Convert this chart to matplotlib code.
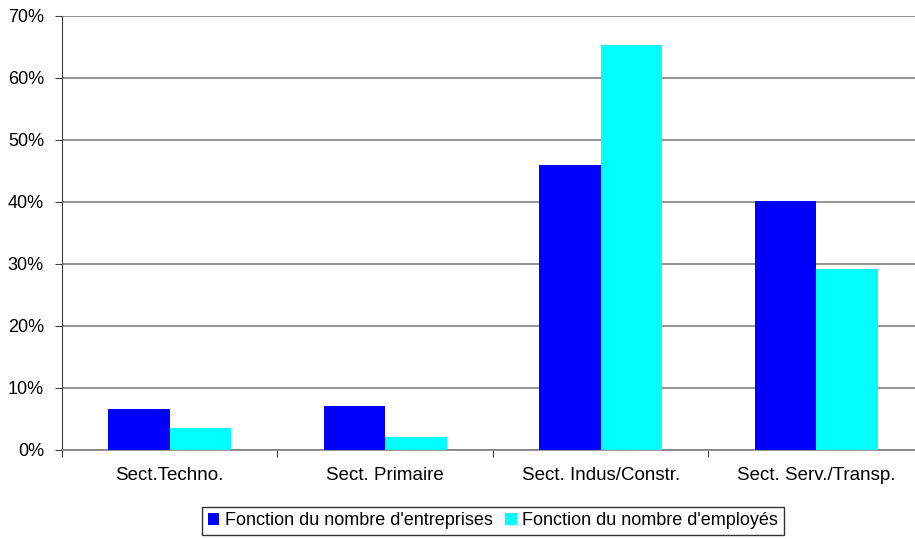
import numpy as np
import matplotlib.pyplot as plt

# --- Données ---
secteurs = ["Sect.Techno.", "Sect. Primaire", "Sect. Indus/Constr.", "Sect. Serv./Transp."]
pct_entreprises = [6.6, 7.1, 46.0, 40.2]
pct_employes = [3.5, 2.1, 65.3, 29.2]
yticks = [0, 10, 20, 30, 40, 50, 60, 70]

plt.rcParams["font.family"] = ["Liberation Sans", "DejaVu Sans"]

W, H = 915, 539
fig = plt.figure(figsize=(W / 100, H / 100), dpi=100)
# l'axe déborde un peu à droite, comme dans l'original
ax = fig.add_axes([62 / W, 1 - 450 / H, (924 - 62) / W, (450 - 16) / H])

x = np.arange(len(secteurs))
larg = 0.285
ax.bar(x - larg / 2, pct_entreprises, larg, color="#0000ff", zorder=3,
       label="Fonction du nombre d'entreprises")
ax.bar(x + larg / 2, pct_employes, larg, color="#00ffff", zorder=3,
       label="Fonction du nombre d'employés")

ax.set_xlim(-0.5, len(secteurs) - 0.5)
ax.set_ylim(0, 70)
ax.set_yticks(yticks)
ax.set_yticklabels([f"{v}%" for v in yticks], fontsize=13)
ax.yaxis.grid(True, color="#808080", linewidth=1.2, zorder=0)

ax.set_xticks(np.arange(len(secteurs) + 1) - 0.5)
ax.set_xticklabels([])
ax.set_xticks(x, minor=True)
ax.set_xticklabels(secteurs, minor=True, fontsize=13.5)
ax.tick_params(axis="x", which="minor", length=0, pad=12)
ax.tick_params(axis="x", which="major", length=5, color="#404040")
ax.tick_params(axis="y", length=5, color="#404040", pad=8)

for s in ["top", "right"]:
    ax.spines[s].set_visible(False)
ax.spines["left"].set_color("#404040")
ax.spines["bottom"].set_color("#808080")
ax.spines["bottom"].set_linewidth(1.2)

leg = fig.legend(loc="upper center", bbox_to_anchor=(493 / W, 1 - 507 / H),
                 ncol=2, fontsize=13, frameon=True, fancybox=False,
                 handlelength=0.65, handleheight=0.65, handletextpad=0.3,
                 columnspacing=0.7, borderpad=0.3, borderaxespad=0)
leg.get_frame().set_edgecolor("black")
leg.get_frame().set_linewidth(1.0)

fig.savefig("out.png", dpi=100)
